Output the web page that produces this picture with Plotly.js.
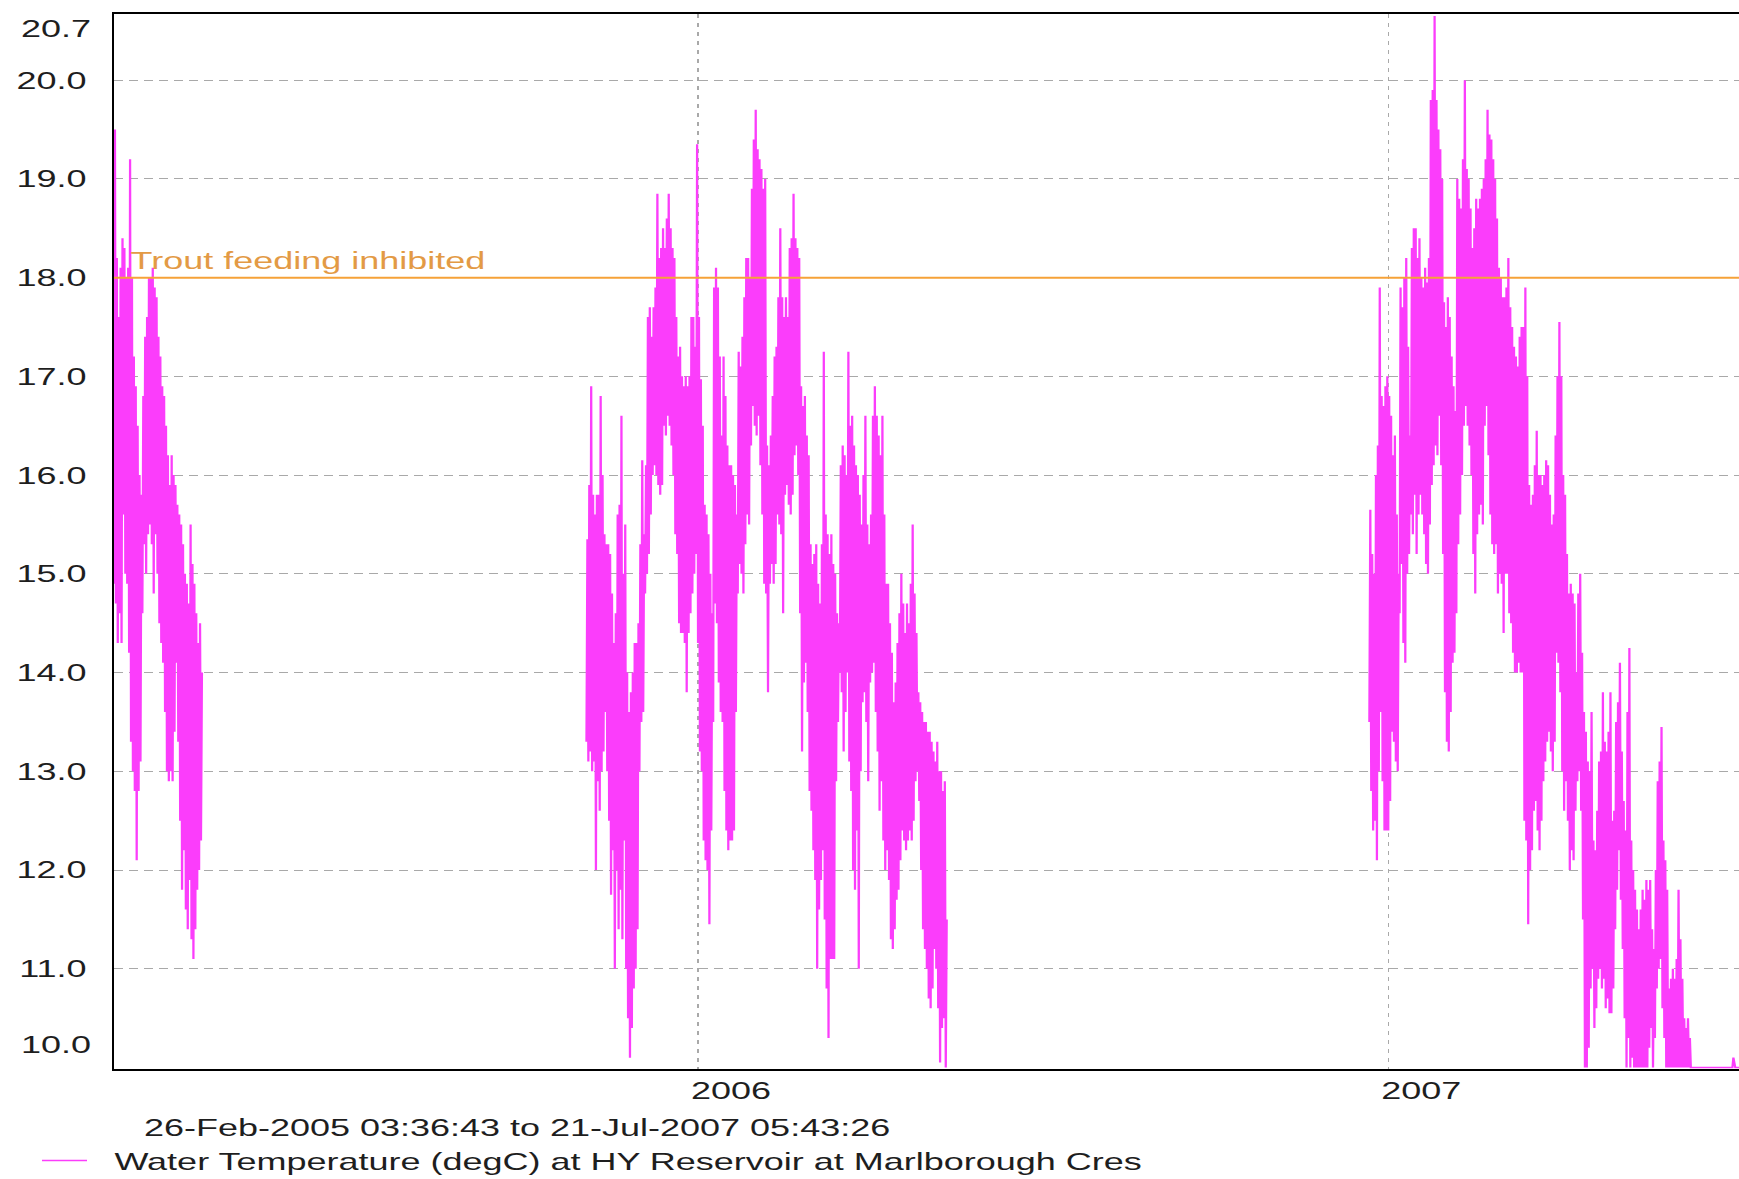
<!DOCTYPE html>
<html>
<head>
<meta charset="utf-8">
<script src="https://cdn.plot.ly/plotly-3.0.1.min.js"></script>
<style>
  html, body { margin: 0; padding: 0; overflow: hidden; background: #ffffff; }
  /* the chart is laid out narrow and widened horizontally, giving the wide lettering of the original export */
  #chart { width: 1160px; height: 1179px; transform: scaleX(1.5); transform-origin: 0 0; }
</style>
</head>
<body>
<div id="chart"></div>
<script>
// Period covered by the record
const periodText = '26-Feb-2005 03:36:43 to 21-Jul-2007 05:43:26';
const seriesName = 'Water Temperature (degC) at HY Reservoir at Marlborough Cres';
const thresholdLabel = 'Trout feeding inhibited';
const thresholdValue = 18.0;

// Axis ticks
const yTickVals = [11, 12, 13, 14, 15, 16, 17, 18, 19, 20];
const yTickText = ['11.0', '12.0', '13.0', '14.0', '15.0', '16.0', '17.0', '18.0', '19.0', '20.0'];
const yMin = 10.0, yMax = 20.67;
const yMinLabel = '10.0', yMaxLabel = '20.7';
const yearTickVals = ['2006-01-01', '2007-01-01'];
const yearTickText = ['2006', '2007'];
const xStart = '2005-02-26 03:36:43';
const xEnd = '2007-07-06 00:00:00';

// Logged run 1: daily low / high (degC)
const startC1 = '2005-02-26 03:36:43';
const loC1 = [14.9,14.7,14.3,14.6,14.3, 15.6,15.0,14.9,14.2,13.3,
              13.0,12.8,12.1,12.8,13.1, 14.6,15.3,15.0,15.4,15.5,
              15.3,14.8,15.4,15.0,14.5, 14.3,14.1,13.6,13.0,12.9,
              13.0,12.9,13.4,14.1,13.3, 12.5,11.8,12.2,11.6,11.4,
              11.9,11.3,11.1,11.4,11.8, 12.0,12.3];
const hiC1 = [19.5,18.2,17.6,18.1,18.4, 18.3,18.0,18.1,19.2,18.0,
              17.2,16.9,16.5,16.0,15.8, 16.8,17.4,17.6,18.0,18.0,
              18.1,17.9,17.8,17.4,17.2, 16.9,16.8,16.5,16.2,15.9,
              16.2,16.0,15.9,15.7,15.6, 15.5,15.3,15.0,14.9,14.7,
              15.5,15.1,14.9,14.6,14.3, 14.5,14.0];

// Logged run 2: daily low / high (degC)
const startC2 = '2005-11-03 00:00:00';
const loC2 = [13.3,13.1,13.2,13.0,13.1, 12.0,12.9,12.6,13.0,13.2,
              13.6,13.0,12.5,11.75,12.2, 11.0,12.0,11.4,11.8,11.3,
              12.3,11.0,10.5,10.1,10.4, 10.8,11.0,11.4,13.0,13.5,
              13.6,14.8,15.0,15.2,15.6, 16.0,16.1,16.0,15.9,15.8,
              15.9,16.5,16.4,16.6,16.5, 16.3,16.0,15.4,15.2,14.5,
              14.4,14.4,14.3,13.8,14.4, 14.6,14.8,15.0,15.2,14.3,
              13.2,13.0,12.3,12.1,12.0, 11.45,12.4,13.5,14.7,14.5,
              13.9,13.6,13.5,12.8,12.4, 12.2,12.3,12.3,12.4,13.6,
              14.8,15.1,15.0,14.8,15.3, 15.6,15.5,16.3,16.7,16.5,
              16.4,16.6,16.1,15.6,14.9, 14.8,13.8,14.9,15.1,14.9,
              15.1,15.6,15.5,15.4,14.6, 15.8,15.9,15.7,15.6,15.8,
              16.2,16.3,16.0,14.6,13.2, 13.9,14.1,13.6,12.8,12.6,
              12.2,11.9,11.0,11.6,11.9, 12.2,11.5,10.8,10.3,11.1,
              11.1,11.1,12.9,13.5,14.0, 13.8,13.2,13.6,14.0,13.1,
              12.8,12.0,11.8,12.4,11.0, 13.0,13.7,13.8,13.5,12.9,
              13.9,14.0,14.1,13.6,13.2, 12.6,12.9,12.3,12.0,12.2,
              11.9,11.3,11.2,11.4,11.7, 11.8,12.1,12.4,12.3,12.2,
              12.3,12.4,12.3,12.5,12.9, 13.0,12.7,12.0,11.4,11.2,
              11.0,10.7,10.6,10.8,11.2, 11.0,10.6,10.05,10.4,10.5,
              10.0];
const hiC2 = [15.35,15.9,16.9,15.8,15.6, 15.8,15.8,16.8,16.0,15.4,
              15.3,15.3,15.2,14.8,14.3, 14.6,15.6,15.7,16.6,15.0,
              15.5,14.0,13.6,13.8,14.0, 14.3,14.3,14.5,15.3,16.15,
              15.4,16.1,17.6,17.7,17.4, 17.7,17.9,18.85,18.2,18.3,
              18.5,18.3,18.6,18.85,18.5, 18.3,18.2,17.6,17.2,17.3,
              17.0,16.9,17.0,16.9,17.0, 17.6,17.6,17.3,19.35,17.6,
              16.97,16.5,15.7,15.6,15.4, 15.0,14.6,17.9,18.1,17.9,
              17.2,16.4,17.2,16.8,16.3, 16.1,16.1,16.0,15.9,15.6,
              17.25,17.1,17.4,17.8,18.2, 18.2,18.0,18.9,19.4,19.7,
              19.3,19.2,19.1,18.9,19.0, 16.3,16.1,16.4,16.8,17.2,
              17.3,17.8,18.5,17.8,17.6, 17.8,17.6,18.3,18.4,18.85,
              18.4,18.3,18.2,16.9,16.7, 16.8,16.4,16.2,15.3,15.1,
              15.2,15.3,14.9,14.7,15.3, 17.25,15.6,15.4,15.2,15.4,
              15.1,15.0,14.6,14.5,16.1, 16.3,16.2,16.0,17.25,16.5,
              16.6,16.3,16.1,16.0,15.8, 15.5,16.0,16.6,15.5,15.3,
              15.6,16.6,16.9,16.6,16.4, 16.2,16.6,15.6,14.9,14.9,
              14.5,14.2,13.7,13.9,14.3, 14.6,15.0,14.7,14.4,14.7,
              14.5,14.9,15.5,14.8,14.4, 13.8,13.7,13.6,13.5,13.5,
              13.4,13.4,13.3,13.2,13.1, 13.3,13.0,13.0,12.8,12.9,
              11.5];

// Logged run 3: daily low / high (degC)
const startC3 = '2006-12-22 00:00:00';
const loC3 = [13.5,12.8,12.4,12.5,12.1, 13.0,13.6,12.9,12.4,12.4,
              12.4,12.7,13.4,13.3,13.1, 13.0,14.6,15.1,14.3,14.1,
              15.0,15.2,15.6,15.4,15.8, 15.2,15.6,15.8,15.6,15.4,
              15.1,15.0,15.5,15.9,16.1, 16.3,16.2,16.6,16.1,15.2,
              13.8,13.3,13.2,13.6,14.1, 14.2,14.6,15.3,15.6,16.0,
              16.5,16.7,16.5,16.3,16.0, 15.2,14.8,15.4,15.6,15.7,
              15.5,16.5,16.7,16.2,15.6, 15.3,15.2,15.3,14.8,15.0,
              14.9,14.4,15.0,15.0,14.6, 14.5,14.2,14.0,14.0,14.1,
              14.0,14.0,12.5,12.3,11.45, 12.0,12.2,12.6,12.7,12.4,
              12.2,12.5,12.9,13.1,13.3, 13.4,13.2,13.0,13.3,14.2,
              14.1,13.8,13.0,12.6,12.9, 12.5,12.0,12.2,12.1,12.6,
              12.9,13.0,12.6,11.5,10.0, 10.0,10.2,10.8,11.0,10.4,
              10.6,10.9,11.0,10.8,10.9, 10.6,10.7,10.55,10.55,10.8,
              11.4,11.8,12.2,11.7,11.2, 10.5,10.0,10.3,10.0,10.1,
              10.0,10.0,10.0,10.0,10.0, 10.0,10.0,10.0,10.2,10.4,
              10.0,10.3,10.8,11.0,11.1, 10.6,10.3,10.0,10.0,10.0,
              10.0,10.0,10.0,10.0,10.0, 10.0,10.0,10.0,10.0,10.0,
              10.0,10.0,10.0,10.0,10.0, 10.0,10.0,10.0,10.0,10.0,
              10.0,10.0,10.0,10.0,10.0, 10.0,10.0,10.0,10.0,10.0,
              10.0,10.0,10.0,10.0,10.0, 10.0,10.0,10.0,10.0,10.0,
              10.0,10.0,10.0,10.0,10.0, 10.0,10.0,10.0,10.0,10.0,
              10.0,10.0];
const hiC3 = [15.65,15.2,15.0,16.0,16.3, 17.9,16.8,16.7,16.9,17.0,
              16.8,16.6,16.2,16.4,15.6, 15.0,17.9,17.7,18.0,18.2,
              17.3,16.4,18.3,18.5,18.5, 18.2,18.4,18.0,17.9,18.1,
              17.95,18.2,19.8,19.9,20.65, 19.8,19.5,19.3,19.0,17.75,
              17.5,17.8,17.6,17.2,16.9, 16.65,19.0,18.8,18.7,19.2,
              20.0,19.1,19.0,18.7,18.3, 18.5,18.8,18.7,18.8,18.9,
              19.0,19.2,19.7,19.45,19.4, 19.2,19.0,18.6,18.1,18.0,
              17.8,17.8,17.9,18.2,17.7, 17.5,17.3,17.2,17.1,17.4,
              17.5,17.5,17.9,17.0,15.9, 15.7,15.8,16.1,16.45,16.0,
              16.0,15.9,16.0,16.15,16.1, 15.8,15.5,15.6,16.4,17.0,
              17.55,17.0,16.0,15.8,15.2, 14.8,14.9,14.8,14.7,14.0,
              14.8,15.0,14.2,13.6,13.4, 13.1,13.0,13.6,12.3,12.2,
              12.6,13.1,13.2,13.8,13.3, 13.2,13.4,13.8,12.5,12.6,
              13.5,13.7,14.1,13.2,12.7, 12.4,13.6,14.25,12.3,12.0,
              11.8,11.6,11.4,11.6,11.8, 11.7,11.9,11.8,11.9,11.4,
              11.2,12.0,12.9,13.1,13.45, 12.3,12.1,11.8,10.8,10.9,
              11.0,10.9,11.1,11.8,11.3, 10.9,10.5,10.4,10.5,10.3,
              10.0,10.0,10.0,10.0,10.0, 10.0,10.0,10.0,10.0,10.0,
              10.0,10.0,10.0,10.0,10.0, 10.0,10.0,10.0,10.0,10.0,
              10.0,10.0,10.1,10.0,10.0, 10.0,10.0,10.0,10.0,10.0,
              10.0,10.0,10.0,10.0,10.0, 10.0,10.0,10.0,10.0,10.0,
              10.0,10.0];

// Colours
const seriesColor = '#fb3dfb';
const thresholdColor = '#f6a238';
const thresholdTextColor = '#e39a45';
const gridColor = '#a9a9a9';
const textColor = '#1e1e1e';
const FONT = '"Liberation Sans", Arial, Helvetica, sans-serif';

// Each day becomes a low reading followed by a high reading half a day later;
// a null separates the logged runs so the gaps stay empty.
const DAY_MS = 86400000;
function fmt(ms) { return new Date(ms).toISOString().slice(0, 19).replace('T', ' '); }
function buildSeries(runs) {
  const xs = [], ys = [];
  runs.forEach(function (run, r) {
    const t0 = Date.parse(run.start.replace(' ', 'T') + 'Z');
    for (let i = 0; i < run.lo.length; i++) {
      xs.push(fmt(t0 + i * DAY_MS)); ys.push(run.lo[i]);
      xs.push(fmt(t0 + i * DAY_MS + DAY_MS / 2)); ys.push(run.hi[i]);
    }
    if (r < runs.length - 1) { xs.push(fmt(t0 + run.lo.length * DAY_MS)); ys.push(null); }
  });
  return { x: xs, y: ys };
}

const series = buildSeries([
  { start: startC1, lo: loC1, hi: hiC1 },
  { start: startC2, lo: loC2, hi: hiC2 },
  { start: startC3, lo: loC3, hi: hiC3 }
]);

const traces = [{
  type: 'scatter',
  mode: 'lines',
  name: '\u00a0\u00a0' + seriesName,
  x: series.x,
  y: series.y,
  connectgaps: false,
  line: { color: seriesColor, width: 1.5 },
  hoverinfo: 'skip'
}];

const layout = {
  width: 1160,
  height: 1179,
  margin: { l: 76, r: 0, t: 14, b: 110, pad: 0, autoexpand: false },
  paper_bgcolor: '#ffffff',
  plot_bgcolor: '#ffffff',
  font: { family: FONT, size: 24, color: textColor },
  title: {
    text: periodText,
    font: { family: FONT, size: 24, color: textColor },
    xref: 'container', x: 96 / 1160, xanchor: 'left',
    yref: 'container', y: 1 - 1128 / 1179, yanchor: 'middle',
    automargin: false
  },
  showlegend: true,
  legend: {
    xref: 'container', x: 23 / 1160, xanchor: 'left',
    yref: 'container', y: 1 - 1161 / 1179, yanchor: 'middle',
    bgcolor: 'rgba(0,0,0,0)', borderwidth: 0,
    font: { family: FONT, size: 24, color: textColor }
  },
  xaxis: {
    type: 'date',
    range: [xStart, xEnd],
    tickmode: 'array',
    tickvals: yearTickVals,
    ticktext: yearTickText,
    ticks: '',
    ticklabelshift: 22,
    ticklabelstandoff: -1,
    showgrid: true,
    gridcolor: gridColor,
    gridwidth: 1,
    griddash: '4px,5px',
    showline: true,
    linecolor: '#000000',
    linewidth: 2,
    mirror: true,
    zeroline: false,
    automargin: false,
    layer: 'below traces',
    fixedrange: true,
    tickfont: { family: FONT, size: 24, color: textColor }
  },
  yaxis: {
    range: [yMin - 0.015, yMax],
    tickmode: 'array',
    tickvals: yTickVals,
    ticktext: yTickText,
    ticks: '',
    ticklabelstandoff: 12,
    showgrid: true,
    gridcolor: gridColor,
    gridwidth: 1,
    griddash: '6px,4px',
    showline: true,
    linecolor: '#000000',
    linewidth: 1.5,
    zeroline: false,
    automargin: false,
    layer: 'below traces',
    fixedrange: true,
    tickfont: { family: FONT, size: 24, color: textColor }
  },
  shapes: [{
    type: 'line', layer: 'above',
    xref: 'paper', x0: 0, x1: 1,
    yref: 'y', y0: thresholdValue, y1: thresholdValue,
    line: { color: thresholdColor, width: 2 }
  }],
  annotations: [
    {
      text: thresholdLabel, showarrow: false,
      xref: 'paper', x: 0.0085, xanchor: 'left',
      yref: 'y', y: thresholdValue, yanchor: 'bottom', yshift: 2,
      font: { family: FONT, size: 24, color: thresholdTextColor }
    },
    {
      text: yMinLabel, showarrow: false,
      xref: 'paper', x: 0, xanchor: 'right', xshift: -13,
      yref: 'y', y: yMin, yanchor: 'middle', yshift: 23,
      font: { family: FONT, size: 24, color: textColor }
    },
    {
      text: yMaxLabel, showarrow: false,
      xref: 'paper', x: 0, xanchor: 'right', xshift: -13,
      yref: 'y', y: yMax, yanchor: 'middle', yshift: -14,
      font: { family: FONT, size: 24, color: textColor }
    }
  ]
};

Plotly.newPlot('chart', traces, layout, { staticPlot: true, displayModeBar: false });
</script>
</body>
</html>
